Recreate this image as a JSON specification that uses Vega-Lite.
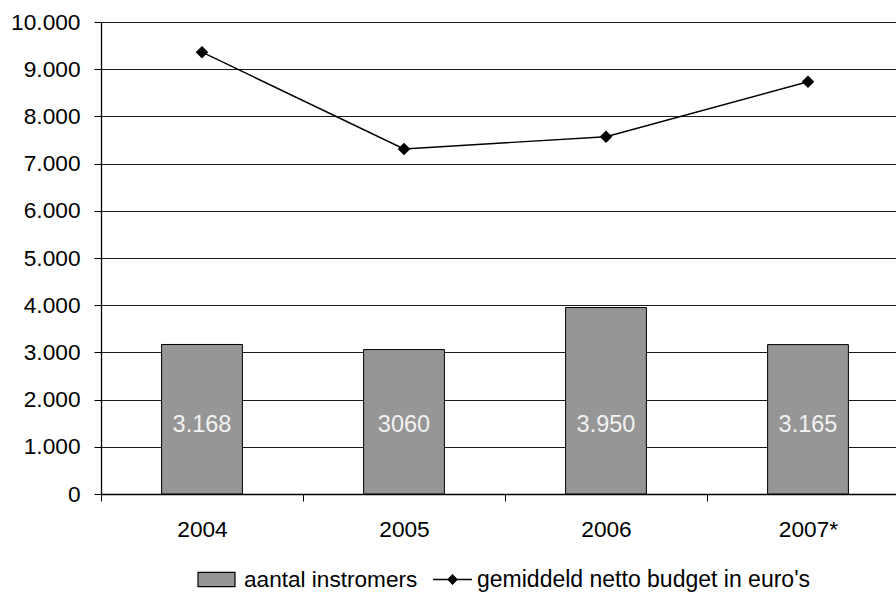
{
  "$schema": "https://vega.github.io/schema/vega-lite/v6.json",
  "autosize": {"type": "none"},
  "padding": {"left": 101, "top": 22, "right": 0, "bottom": 102},
  "width": 795,
  "height": 472,
  "config": {
    "font": "Liberation Sans",
    "view": {"stroke": null},
    "background": "white"
  },
  "data": {
    "values": [
      {"jaar": "2004", "instromers": 3168, "label": "3.168", "budget": 9360},
      {"jaar": "2005", "instromers": 3060, "label": "3060", "budget": 7310},
      {"jaar": "2006", "instromers": 3950, "label": "3.950", "budget": 7570},
      {"jaar": "2007*", "instromers": 3165, "label": "3.165", "budget": 8735}
    ]
  },
  "encoding": {
    "x": {
      "field": "jaar",
      "type": "nominal",
      "sort": null,
      "scale": {"range": [0, 808], "paddingInner": 0, "paddingOuter": 0},
      "axis": {
        "title": null,
        "labelAngle": 0,
        "labelFontSize": 22.7,
        "labelColor": "black",
        "labelPadding": 17,
        "tickBand": "extent",
        "tickSize": 7,
        "tickColor": "black",
        "domainColor": "black",
        "domainWidth": 1.3,
        "grid": false
      }
    }
  },
  "layer": [
    {
      "mark": {"type": "bar", "stroke": "black", "strokeWidth": 1, "width": {"band": 0.4}},
      "encoding": {
        "y": {
          "field": "instromers",
          "type": "quantitative",
          "scale": {"domain": [0, 10000], "nice": false},
          "axis": {
            "title": null,
            "values": [0, 1000, 2000, 3000, 4000, 5000, 6000, 7000, 8000, 9000, 10000],
            "labelExpr": "replace(format(datum.value, ','), ',', '.')",
            "labelFontSize": 22.7,
            "labelColor": "black",
            "labelPadding": 14,
            "tickSize": 7,
            "tickColor": "black",
            "domainColor": "black",
            "domainWidth": 1.3,
            "grid": true,
            "gridColor": "#1a1a1a",
            "gridWidth": 1.1
          }
        },
        "fill": {
          "datum": "aantal instromers",
          "scale": {"range": ["#969696"]},
          "legend": {
            "title": null,
            "orient": "none",
            "legendX": 96,
            "legendY": 538,
            "padding": 0,
            "labelFontSize": 22.6,
            "labelColor": "black",
            "labelOffset": 8,
            "labelLimit": 600,
            "symbolType": "M-1,-0.38H1V0.38H-1Z",
            "symbolSize": 1369,
            "symbolStrokeColor": "black",
            "symbolStrokeWidth": 1.2,
            "symbolOpacity": 1
          }
        }
      }
    },
    {
      "mark": {"type": "text", "fontSize": 23.5, "color": "#f2f2f2", "baseline": "middle"},
      "encoding": {
        "y": {"datum": 1460, "type": "quantitative"},
        "text": {"field": "label"}
      }
    },
    {
      "mark": {
        "type": "line",
        "strokeWidth": 1.4,
        "point": {"shape": "diamond", "filled": true, "size": 95, "fill": "black"}
      },
      "encoding": {
        "y": {"field": "budget", "type": "quantitative"},
        "stroke": {
          "datum": "gemiddeld netto budget in euro's",
          "scale": {"range": ["black"]},
          "legend": {
            "title": null,
            "orient": "none",
            "legendX": 331,
            "legendY": 537,
            "padding": 0,
            "labelFontSize": 23,
            "labelColor": "black",
            "labelOffset": 4,
            "labelLimit": 600,
            "symbolType": "M-1,0H1M0,-0.23L0.23,0L0,0.23L-0.23,0Z",
            "symbolSize": 1521,
            "symbolFillColor": "black",
            "symbolStrokeColor": "black",
            "symbolStrokeWidth": 1.3,
            "symbolOpacity": 1
          }
        }
      }
    }
  ]
}
